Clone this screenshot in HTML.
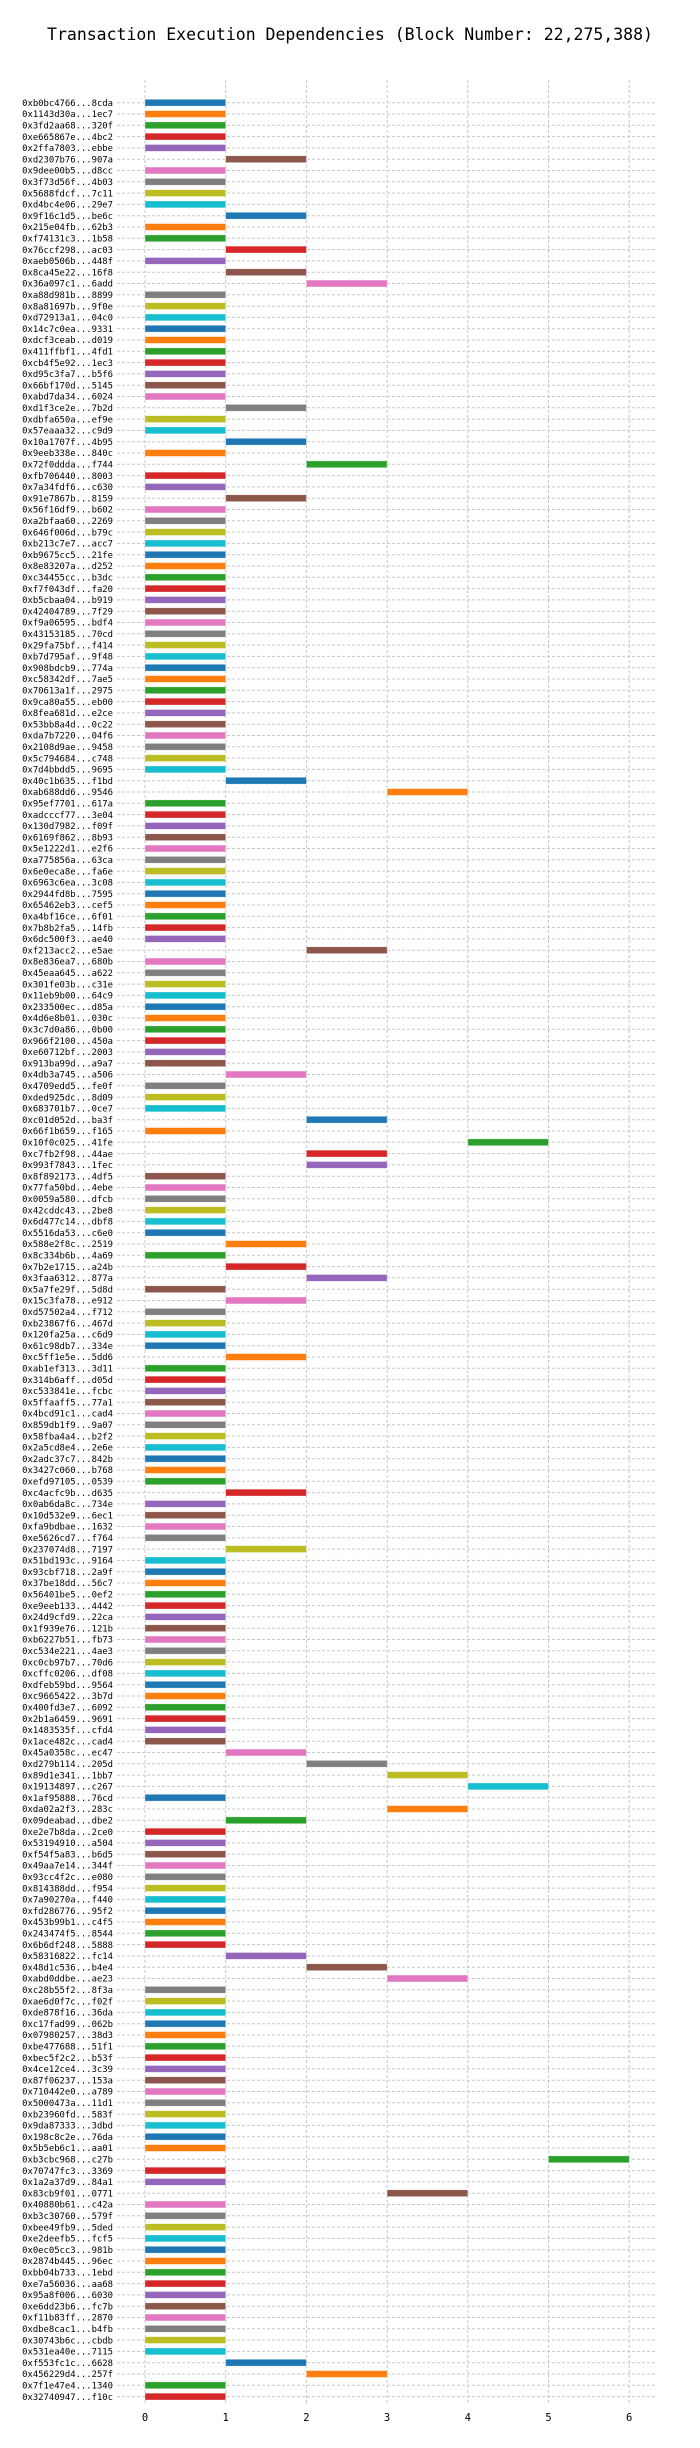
<!DOCTYPE html>
<html><head><meta charset="utf-8">
<style>
html,body{margin:0;padding:0;background:#fff;}
svg{display:block;}
text{font-family:"DejaVu Sans Mono","Liberation Mono",monospace;fill:#000;}
</style></head>
<body>
<svg id="chart" width="700" height="2448" viewBox="0 0 700 2448" xmlns="http://www.w3.org/2000/svg">
<text x="350" y="40" text-anchor="middle" font-size="16.5">Transaction Execution Dependencies (Block Number: 22,275,388)</text>
<g id="grid"></g>
<g id="bars"></g>
<g id="ylabels"></g>
<g id="xticks"></g>
</svg>
<script>
const txLabels = ["0xb0bc4766...8cda","0x1143d30a...1ec7","0x3fd2aa68...320f","0xe665867e...4bc2","0x2ffa7803...ebbe","0xd2307b76...907a","0x9dee00b5...d8cc","0x3f73d56f...4b03","0x5688fdcf...7c11","0xd4bc4e06...29e7",
"0x9f16c1d5...be6c","0x215e04fb...62b3","0xf74131c3...1b58","0x76ccf298...ac03","0xaeb0506b...448f","0x8ca45e22...16f8","0x36a097c1...6add","0xa88d981b...8899","0x8a81697b...9f0e","0xd72913a1...04c0",
"0x14c7c0ea...9331","0xdcf3ceab...d019","0x411ffbf1...4fd1","0xcb4f5e92...1ec3","0xd95c3fa7...b5f6","0x66bf170d...5145","0xabd7da34...6024","0xd1f3ce2e...7b2d","0xdbfa650a...ef9e","0x57eaaa32...c9d9",
"0x10a1707f...4b95","0x9eeb338e...840c","0x72f0ddda...f744","0xfb706440...8003","0x7a34fdf6...c630","0x91e7867b...8159","0x56f16df9...b602","0xa2bfaa60...2269","0x646f006d...b79c","0xb213c7e7...acc7",
"0xb9675cc5...21fe","0x8e83207a...d252","0xc34455cc...b3dc","0xf7f043df...fa20","0xb5cbaa04...b919","0x42404789...7f29","0xf9a06595...bdf4","0x43153185...70cd","0x29fa75bf...f414","0xb7d795af...9f48",
"0x908bdcb9...774a","0xc58342df...7ae5","0x70613a1f...2975","0x9ca80a55...eb00","0x8fea681d...e2ce","0x53bb8a4d...0c22","0xda7b7220...04f6","0x2108d9ae...9458","0x5c794684...c748","0x7d4bbdd5...9695",
"0x40c1b635...f1bd","0xab688dd6...9546","0x95ef7701...617a","0xadcccf77...3e04","0x130d7982...f09f","0x6169f862...8b93","0x5e1222d1...e2f6","0xa775856a...63ca","0x6e0eca8e...fa6e","0x6963c6ea...3c08",
"0x2944fd8b...7595","0x65462eb3...cef5","0xa4bf16ce...6f01","0x7b8b2fa5...14fb","0x6dc500f3...ae40","0xf213acc2...e5ae","0x8e836ea7...680b","0x45eaa645...a622","0x301fe03b...c31e","0x11eb9b00...64c9",
"0x233500ec...d85a","0x4d6e8b01...030c","0x3c7d0a86...0b00","0x966f2100...450a","0xe60712bf...2003","0x913ba99d...a9a7","0x4db3a745...a506","0x4709edd5...fe0f","0xded925dc...8d09","0x683701b7...0ce7",
"0xc01d052d...ba3f","0x66f1b659...f165","0x10f0c025...41fe","0xc7fb2f98...44ae","0x993f7843...1fec","0x8f892173...4df5","0x77fa50bd...4ebe","0x0059a580...dfcb","0x42cddc43...2be8","0x6d477c14...dbf8",
"0x5516da53...c6e0","0x588e2f8c...2519","0x8c334b6b...4a69","0x7b2e1715...a24b","0x3faa6312...877a","0x5a7fe29f...5d8d","0x15c3fa78...e912","0xd57502a4...f712","0xb23867f6...467d","0x120fa25a...c6d9",
"0x61c98db7...334e","0xc5ff1e5e...5dd6","0xab1ef313...3d11","0x314b6aff...d05d","0xc533841e...fcbc","0x5ffaaff5...77a1","0x4bcd91c1...cad4","0x859db1f9...9a07","0x58fba4a4...b2f2","0x2a5cd8e4...2e6e",
"0x2adc37c7...842b","0x3427c060...b768","0xefd97105...0539","0xc4acfc9b...d635","0x0ab6da8c...734e","0x10d532e9...6ec1","0xfa9bdbae...1632","0xe5626cd7...f764","0x237074d8...7197","0x51bd193c...9164",
"0x93cbf718...2a9f","0x37be18dd...56c7","0x56401be5...0ef2","0xe9eeb133...4442","0x24d9cfd9...22ca","0x1f939e76...121b","0xb6227b51...fb73","0xc534e221...4ae3","0xc0cb97b7...70d6","0xcffc0206...df08",
"0xdfeb59bd...9564","0xc9665422...3b7d","0x400fd3e7...6092","0x2b1a6459...9691","0x1483535f...cfd4","0x1ace482c...cad4","0x45a0358c...ec47","0xd279b114...205d","0x89d1e341...1bb7","0x19134897...c267",
"0x1af95888...76cd","0xda02a2f3...283c","0x09deabad...dbe2","0xe2e7b8da...2ce0","0x53194910...a504","0xf54f5a83...b6d5","0x49aa7e14...344f","0x93cc4f2c...e080","0x814388dd...f954","0x7a90270a...f440",
"0xfd286776...95f2","0x453b99b1...c4f5","0x243474f5...8544","0x6b6df248...5888","0x58316822...fc14","0x48d1c536...b4e4","0xabd0ddbe...ae23","0xc28b55f2...8f3a","0xae6d0f7c...f02f","0xde878f16...36da",
"0xc17fad99...062b","0x07980257...38d3","0xbe477688...51f1","0xbec5f2c2...b53f","0x4ce12ce4...3c39","0x87f06237...153a","0x710442e0...a789","0x5000473a...11d1","0xb23960fd...583f","0x9da87333...3dbd",
"0x198c8c2e...76da","0x5b5eb6c1...aa01","0xb3cbc968...c27b","0x70747fc3...3369","0x1a2a37d9...84a1","0x83cb9f01...0771","0x40880b61...c42a","0xb3c30760...579f","0xbee49fb9...5ded","0xe2deefb5...fcf5",
"0x0ec05cc3...981b","0x2874b445...96ec","0xbb04b733...1ebd","0xe7a56036...aa68","0x95a8f006...6030","0xe6dd23b6...fc7b","0xf11b83ff...2870","0xdbe8cac1...b4fb","0x30743b6c...cbdb","0x531ea40e...7115",
"0xf553fc1c...6628","0x456229d4...257f","0x7f1e47e4...1340","0x32740947...f10c"];
const startTimes = [0,0,0,0,0,1,0,0,0,0, 1,0,0,1,0,1,2,0,0,0, 0,0,0,0,0,0,0,1,0,0, 1,0,2,0,0,1,0,0,0,0,
0,0,0,0,0,0,0,0,0,0, 0,0,0,0,0,0,0,0,0,0, 1,3,0,0,0,0,0,0,0,0, 0,0,0,0,0,2,0,0,0,0,
0,0,0,0,0,0,1,0,0,0, 2,0,4,2,2,0,0,0,0,0, 0,1,0,1,2,0,1,0,0,0, 0,1,0,0,0,0,0,0,0,0,
0,0,0,1,0,0,0,0,1,0, 0,0,0,0,0,0,0,0,0,0, 0,0,0,0,0,0,1,2,3,4, 0,3,1,0,0,0,0,0,0,0,
0,0,0,0,1,2,3,0,0,0, 0,0,0,0,0,0,0,0,0,0, 0,0,5,0,0,3,0,0,0,0, 0,0,0,0,0,0,0,0,0,0,
1,2,0,0];
const durations = txLabels.map(() => 1);
const xTickLabels = ["0","1","2","3","4","5","6"];

const palette = ["#1f77b4","#ff7f0e","#2ca02c","#d62728","#9467bd","#8c564b","#e377c2","#7f7f7f","#bcbd22","#17becf"];
const NS = "http://www.w3.org/2000/svg";
const X0 = 145, UNIT = 80.7, Y0 = 102.7, ROW = 11.3, TOP = 80, BOTTOM = 2403, LEFT = 117, RIGHT = 656;
function xScale(v){ return X0 + v * UNIT; }
function yScale(i){ return Y0 + i * ROW; }
function mk(tag, attrs){ const e = document.createElementNS(NS, tag); for (const k in attrs) e.setAttribute(k, attrs[k]); return e; }

const grid = document.getElementById('grid');
const bars = document.getElementById('bars');
const ylabels = document.getElementById('ylabels');
const xticks = document.getElementById('xticks');

xTickLabels.forEach((t, k) => {
  const v = +t;
  const gl = mk('line', {x1: xScale(v), x2: xScale(v), y1: TOP, y2: BOTTOM, stroke: '#c8c8c8', 'stroke-width': 1, 'stroke-dasharray': '3,2'});
  
  
  grid.appendChild(gl);
  const tx = mk('text', {x: xScale(v), y: 2421, 'text-anchor': 'middle', 'font-size': 10.5});
  tx.textContent = t;
  
  
  xticks.appendChild(tx);
});

txLabels.forEach((lab, i) => {
  const y = yScale(i);
  const hl = mk('line', {x1: LEFT, x2: RIGHT, y1: y, y2: y, stroke: '#c8c8c8', 'stroke-width': 1, 'stroke-dasharray': '3,2'});
  
  
  grid.appendChild(hl);
  const r = mk('rect', {x: xScale(startTimes[i]), y: y - 3.4, width: durations[i] * UNIT, height: 6.8, fill: palette[i % 10], stroke: '#ffffff', 'stroke-opacity': 0.5, 'stroke-width': 0.6});
  
  
  bars.appendChild(r);
  const t = mk('text', {x: 113, y: y + 3.2, 'text-anchor': 'end', 'font-size': 8.9});
  t.textContent = lab;
  
  
  ylabels.appendChild(t);
});
</script>
</body></html>
